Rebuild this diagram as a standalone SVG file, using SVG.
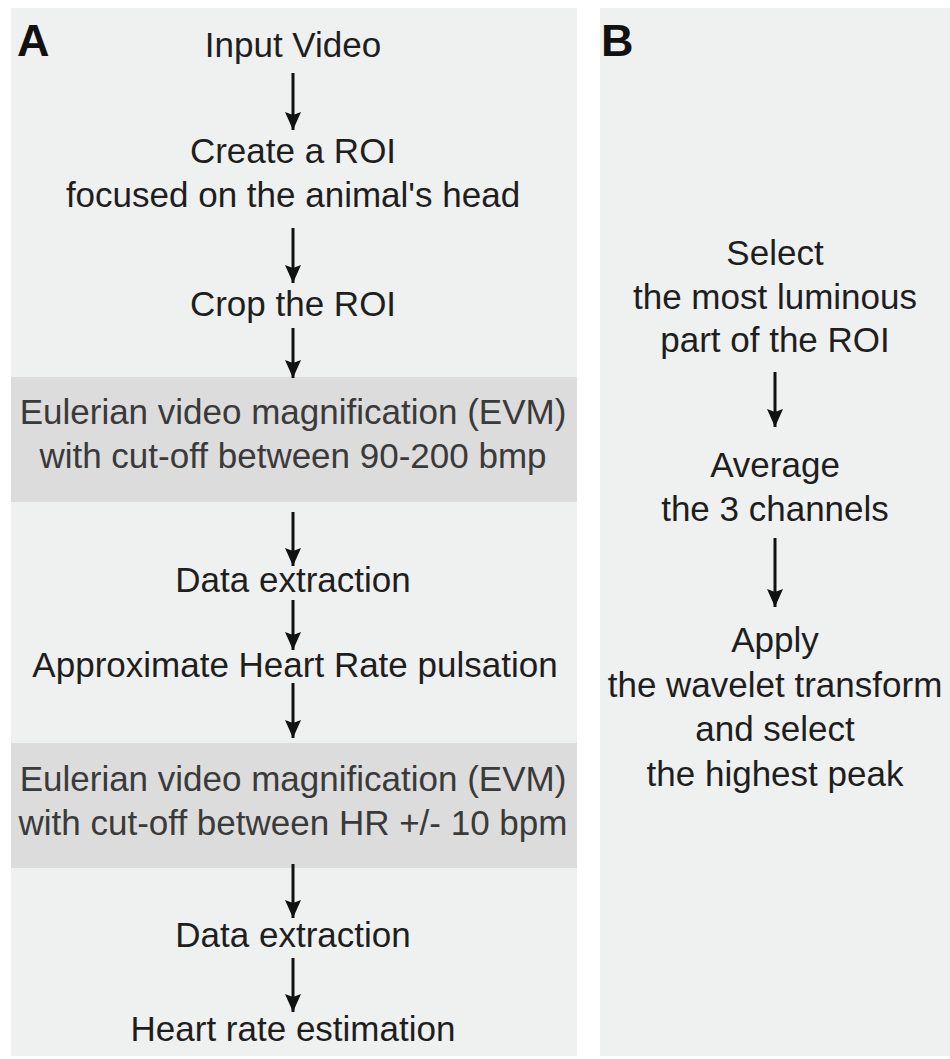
<svg xmlns="http://www.w3.org/2000/svg" width="950" height="1059" viewBox="0 0 950 1059">
<style>
.panel{fill:#eff0f0}
.band{fill:#dcdcdc}
.t{font-family:"Liberation Sans",Arial,sans-serif;font-size:35px;fill:#1e1e1e;text-anchor:middle}
.tb{fill:#3a3a3a}
.lbl{font-family:"Liberation Sans",Arial,sans-serif;font-size:45px;font-weight:bold;fill:#111}
.arr{stroke:#111;stroke-width:3;fill:none;marker-end:url(#ah)}
</style>
<defs>
<marker id="ah" markerUnits="userSpaceOnUse" markerWidth="20" markerHeight="24" refX="18" refY="8" orient="auto" viewBox="0 0 20 16">
<path d="M0,0 L18,8 L0,16 L3,8 Z" fill="#111"/>
</marker>
</defs>
<rect width="950" height="1059" fill="#ffffff"/>
<g id="panelA">
<rect class="panel" x="11" y="8" width="566" height="1048"/>
<rect class="band" x="11" y="377" width="566" height="125"/>
<rect class="band" x="11" y="743" width="566" height="125"/>
<text class="lbl" x="17" y="56">A</text>
</g>
<g id="panelB">
<rect class="panel" x="600" y="8" width="350" height="1048"/>
<text class="lbl" x="601" y="56">B</text>
</g>
<g id="connectors">
<path class="arr" d="M293,73 V130"/>
<path class="arr" d="M293,228 V283"/>
<path class="arr" d="M293,328 V378"/>
<path class="arr" d="M293,512 V566"/>
<path class="arr" d="M293,600 V650"/>
<path class="arr" d="M293,683 V738"/>
<path class="arr" d="M293,864 V918"/>
<path class="arr" d="M293,958 V1012"/>
<path class="arr" d="M775,372 V427"/>
<path class="arr" d="M775,538 V607"/>
</g>
<g id="n-input"><text class="t" x="293" y="57">Input Video</text></g>
<g id="n-roi"><text class="t" x="293" y="163">Create a ROI</text><text class="t" x="293" y="207">focused on the animal's head</text></g>
<g id="n-crop"><text class="t" x="293" y="316">Crop the ROI</text></g>
<g id="n-evm1"><text class="t tb" x="293" y="424">Eulerian video magnification (EVM)</text><text class="t tb" x="293" y="468">with cut-off between 90-200 bmp</text></g>
<g id="n-data1"><text class="t" x="293" y="592">Data extraction</text></g>
<g id="n-approx"><text class="t" x="295" y="677">Approximate Heart Rate pulsation</text></g>
<g id="n-evm2"><text class="t tb" x="293" y="791">Eulerian video magnification (EVM)</text><text class="t tb" x="293" y="835">with cut-off between HR +/- 10 bpm</text></g>
<g id="n-data2"><text class="t" x="293" y="947">Data extraction</text></g>
<g id="n-hr"><text class="t" x="293" y="1041">Heart rate estimation</text></g>
<g id="n-select"><text class="t" x="775" y="265">Select</text><text class="t" x="775" y="309">the most luminous</text><text class="t" x="775" y="352">part of the ROI</text></g>
<g id="n-average"><text class="t" x="775" y="477">Average</text><text class="t" x="775" y="521">the 3 channels</text></g>
<g id="n-apply"><text class="t" x="775" y="652">Apply</text><text class="t" x="775" y="697">the wavelet transform</text><text class="t" x="775" y="741">and select</text><text class="t" x="775" y="786">the highest peak</text></g>
</svg>
